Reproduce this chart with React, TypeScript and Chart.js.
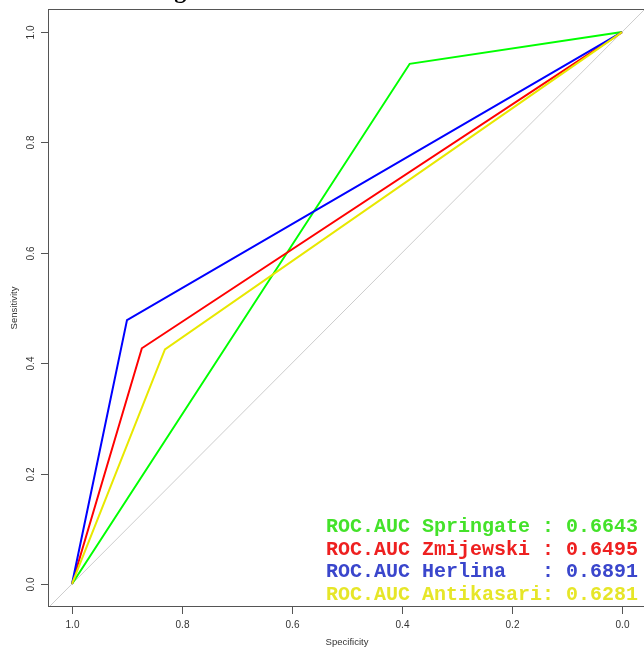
import React, { useEffect, useRef } from "react";
import { Chart, registerables } from "chart.js";
Chart.register(...registerables);

const seriesNames = ["Springate", "Zmijewski", "Herlina", "Antikasari"];
const aucValues = ["0.6643", "0.6495", "0.6891", "0.6281"];
const springateSpec = [1, 0.386, 0];
const springateSens = [0, 0.9425, 1];
const zmijewskiSpec = [1, 0.873, 0];
const zmijewskiSens = [0, 0.427, 1];
const herlinaSpec = [1, 0.9, 0];
const herlinaSens = [0, 0.478, 1];
const antikasariSpec = [1, 0.831, 0];
const antikasariSens = [0, 0.425, 1];
const diagSpec = [1.0418, -0.0418];
const diagSens = [-0.0418, 1.0418];
const xTicks = [1.0, 0.8, 0.6, 0.4, 0.2, 0.0];
const yTicks = [0.0, 0.2, 0.4, 0.6, 0.8, 1.0];
const lineColors = ["#00ff00", "#ff0000", "#0000ff", "#e8e800"];
const textColors = ["#44e22a", "#ee2020", "#3a46cc", "#e6e628"];
const titleText = "grafik ROC Curve Metode";

const pts = (xs: number[], ys: number[]) => xs.map((x, i) => ({ x, y: ys[i] }));

export default function App() {
  const ref = useRef<HTMLCanvasElement>(null);
  useEffect(() => {
    if (!ref.current) return;
    const specs = [springateSpec, zmijewskiSpec, herlinaSpec, antikasariSpec];
    const sens = [springateSens, zmijewskiSens, herlinaSens, antikasariSens];
    const datasets: any[] = seriesNames.map((n, i) => ({
      label: n,
      data: pts(specs[i], sens[i]),
      borderColor: lineColors[i],
      borderWidth: 2,
      pointRadius: 0,
      tension: 0,
      fill: false,
      order: 4 - i,
    }));
    datasets.push({
      label: "diag",
      data: pts(diagSpec, diagSens),
      borderColor: "#cccccc",
      borderWidth: 1,
      pointRadius: 0,
      fill: false,
      order: 10,
    });
    const deco = {
      id: "deco",
      afterDraw(chart: any) {
        const ctx = chart.ctx;
        const { left, right, top, bottom } = chart.chartArea;
        const xs = chart.scales.x;
        const ys = chart.scales.y;
        ctx.save();
        ctx.strokeStyle = "#555";
        ctx.lineWidth = 1;
        ctx.strokeRect(Math.round(left) - 0.5, Math.round(top) + 0.5, Math.round(right - left), Math.round(bottom - top) - 1);
        ctx.fillStyle = "#333";
        ctx.font = '10px "Liberation Sans", Arial, sans-serif';
        ctx.textAlign = "center";
        ctx.textBaseline = "middle";
        yTicks.forEach((v) => {
          const py = Math.round(ys.getPixelForValue(v)) + 0.5;
          ctx.beginPath();
          ctx.moveTo(left - 8, py);
          ctx.lineTo(left, py);
          ctx.stroke();
          ctx.save();
          ctx.translate(31, py);
          ctx.rotate(-Math.PI / 2);
          ctx.fillText(v.toFixed(1), 0, 0);
          ctx.restore();
        });
        xTicks.forEach((v) => {
          const px = Math.round(xs.getPixelForValue(v)) + 0.5;
          ctx.beginPath();
          ctx.moveTo(px, bottom);
          ctx.lineTo(px, bottom + 7);
          ctx.stroke();
          ctx.fillText(v.toFixed(1), px, 625);
        });
        ctx.font = '9.5px "Liberation Sans", Arial, sans-serif';
        ctx.fillText("Specificity", 347, 642);
        ctx.save();
        ctx.translate(14, 308);
        ctx.rotate(-Math.PI / 2);
        ctx.fillText("Sensitivity", 0, 0);
        ctx.restore();
        ctx.fillStyle = "#000";
        ctx.font = 'bold 24px "Liberation Serif", serif';
        ctx.textBaseline = "alphabetic";
        ctx.fillText(titleText, 312, -2);
        ctx.textAlign = "left";
        ctx.font = 'bold 20px "Liberation Mono", monospace';
        const baselines = [532, 555, 577, 600];
        seriesNames.forEach((n, i) => {
          ctx.fillStyle = textColors[i];
          ctx.fillText("ROC.AUC " + n.padEnd(10, " ") + ": " + aucValues[i], 326, baselines[i]);
        });
        ctx.restore();
      },
    };
    const chart = new Chart(ref.current, {
      type: "line",
      data: { datasets },
      options: {
        animation: false,
        responsive: false,
        layout: { padding: { top: 9, right: 15, left: 0, bottom: 0 } },
        plugins: { legend: { display: false }, tooltip: { enabled: false }, title: { display: false } },
        scales: {
          x: {
            type: "linear",
            reverse: true,
            min: -0.0418,
            max: 1.0418,
            ticks: { display: false },
            grid: { display: false, drawTicks: false },
            border: { display: false },
            afterFit: (s: any) => { s.height = 44; },
          },
          y: {
            type: "linear",
            min: -0.0418,
            max: 1.0418,
            ticks: { display: false },
            grid: { display: false, drawTicks: false },
            border: { display: false },
            afterFit: (s: any) => { s.width = 49; },
          },
        },
      },
      plugins: [deco],
    });
    return () => chart.destroy();
  }, []);
  return (
    <div style={{ position: "fixed", left: 0, top: 0, width: 644, height: 651, overflow: "hidden", background: "#fff" }}>
      <canvas ref={ref} width={660} height={651} style={{ display: "block" }} />
    </div>
  );
}
